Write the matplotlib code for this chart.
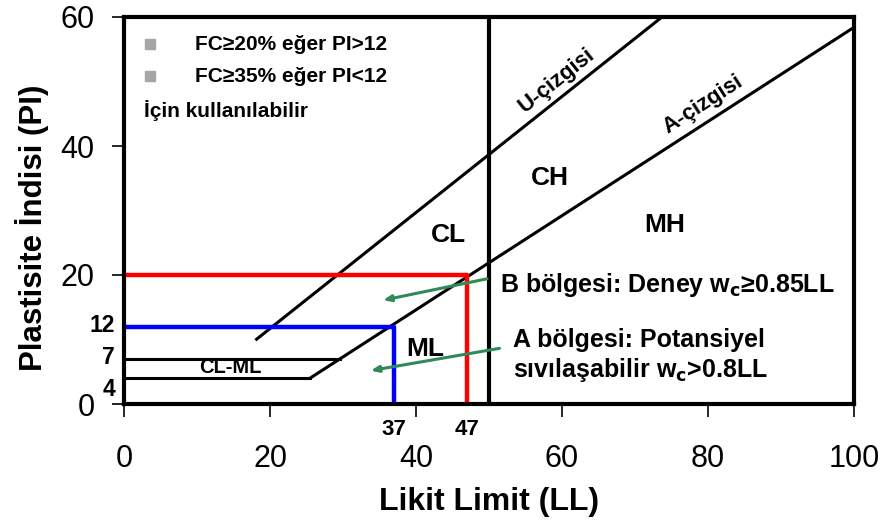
import numpy as np
import matplotlib.pyplot as plt

plt.rcParams['font.family'] = ['Liberation Sans', 'DejaVu Sans']

# plasticity chart reference lines
a_line_ll = [25.5, 100]          # A-line: PI = 0.73 (LL - 20)
a_line_pi = [0.73 * (25.5 - 20), 0.73 * (100 - 20)]
u_line_ll = [18, 73.7]
u_line_pi = [9.9, 60]
clml_ll = [0, 25.5, 0, 29.6]     # CL-ML band limits
clml_pi = [4, 4, 7, 7]
ll_split = 50

# regions B and A (liquefaction screening)
b_ll, b_pi = 47, 20
a_ll, a_pi = 37, 12

zone_labels = ['CL', 'CH', 'MH', 'ML']
zone_ll = [44.5, 58.4, 74.1, 41.2]
zone_pi = [26.2, 35.0, 27.8, 8.5]

# arrows: (tail LL, tail PI, head LL, head PI)
arrows = [(50.1, 19.5, 35.1, 16.0), (51.8, 8.7, 33.4, 5.1)]

xticks = [0, 20, 40, 60, 80, 100]
yticks = [0, 20, 40, 60]

fig = plt.figure(figsize=(8.89, 5.21), dpi=100)
ax = fig.add_axes([124 / 889, 1 - 404 / 521, 730 / 889, 387 / 521])
ax.set_xlim(0, 100)
ax.set_ylim(0, 60)

for s in ax.spines.values():
    s.set_linewidth(3)
ax.set_xticks(xticks)
ax.set_yticks(yticks)
ax.tick_params(axis='x', length=9, width=1.2, pad=20, labelsize=22)
ax.tick_params(axis='y', length=9, width=1.2, pad=12, labelsize=22)

lw = 2.2
ax.plot(a_line_ll, a_line_pi, color='black', lw=lw, solid_capstyle='butt')
ax.plot(u_line_ll, u_line_pi, color='black', lw=lw, solid_capstyle='butt')
ax.plot(clml_ll[:2], clml_pi[:2], color='black', lw=lw)
ax.plot(clml_ll[2:], clml_pi[2:], color='black', lw=lw)
ax.plot([ll_split, ll_split], [0, 60], color='black', lw=3)

ax.plot([0, b_ll, b_ll], [b_pi, b_pi, 0], color='#ff0000', lw=3.2)
ax.plot([0, a_ll, a_ll], [a_pi, a_pi, 0], color='#0000ff', lw=3.2)

for x0, y0, x1, y1 in arrows:
    ax.annotate('', xy=(x1, y1), xytext=(x0, y0),
                arrowprops=dict(arrowstyle='-|>,head_length=0.45,head_width=0.18',
                                color='#2e8b57', lw=2.2))

for lab, x, y in zip(zone_labels, zone_ll, zone_pi):
    ax.text(x, y, lab, fontsize=19, fontweight='bold', ha='center', va='center')
ax.text(14.5, 5.6, 'CL-ML', fontsize=14.5, fontweight='bold', ha='center', va='center')

ax.text(59.3, 50.2, 'U-çizgisi', fontsize=16, fontweight='bold',
        rotation=38.5, ha='center', va='center', rotation_mode='anchor')
ax.text(79.3, 46.4, 'A-çizgisi', fontsize=16, fontweight='bold',
        rotation=32.8, ha='center', va='center', rotation_mode='anchor')

ax.text(51.5, 18.5, r'B bölgesi: Deney w$_\mathbf{c}$≥0.85LL', fontsize=18,
        fontweight='bold', ha='left', va='center')
ax.text(53.3, 10.0, 'A bölgesi: Potansiyel', fontsize=18,
        fontweight='bold', ha='left', va='center')
ax.text(53.3, 5.2, r'sıvılaşabilir w$_\mathbf{c}$>0.8LL', fontsize=18,
        fontweight='bold', ha='left', va='center')

# notes in the upper left corner
ax.plot([3.6, 3.6], [55.8, 50.8], ls='none', marker='s', ms=7, color='#a6a6a6')
ax.text(9.7, 55.8, 'FC≥20% eğer PI>12', fontsize=15, fontweight='bold', va='center')
ax.text(9.7, 50.8, 'FC≥35% eğer PI<12', fontsize=15, fontweight='bold', va='center')
ax.text(2.8, 45.5, 'İçin kullanılabilir', fontsize=15, fontweight='bold', va='center')

# extra tick values
for v, y in zip([12, 7, 4], [12.1, 7.2, 2.3]):
    ax.text(-1.2, y, str(v), fontsize=16.5, fontweight='bold',
            ha='right', va='center')
for v in [a_ll, b_ll]:
    ax.text(v, -4.0, str(v), fontsize=16, fontweight='bold',
            ha='center', va='center')

ax.set_xlabel('Likit Limit (LL)', fontsize=23, fontweight='bold', labelpad=9)
ax.set_ylabel('Plastisite İndisi (PI)', fontsize=22.5, fontweight='bold')
ax.yaxis.set_label_coords(-0.103, 0.455)

fig.savefig('out.png', dpi=100)
